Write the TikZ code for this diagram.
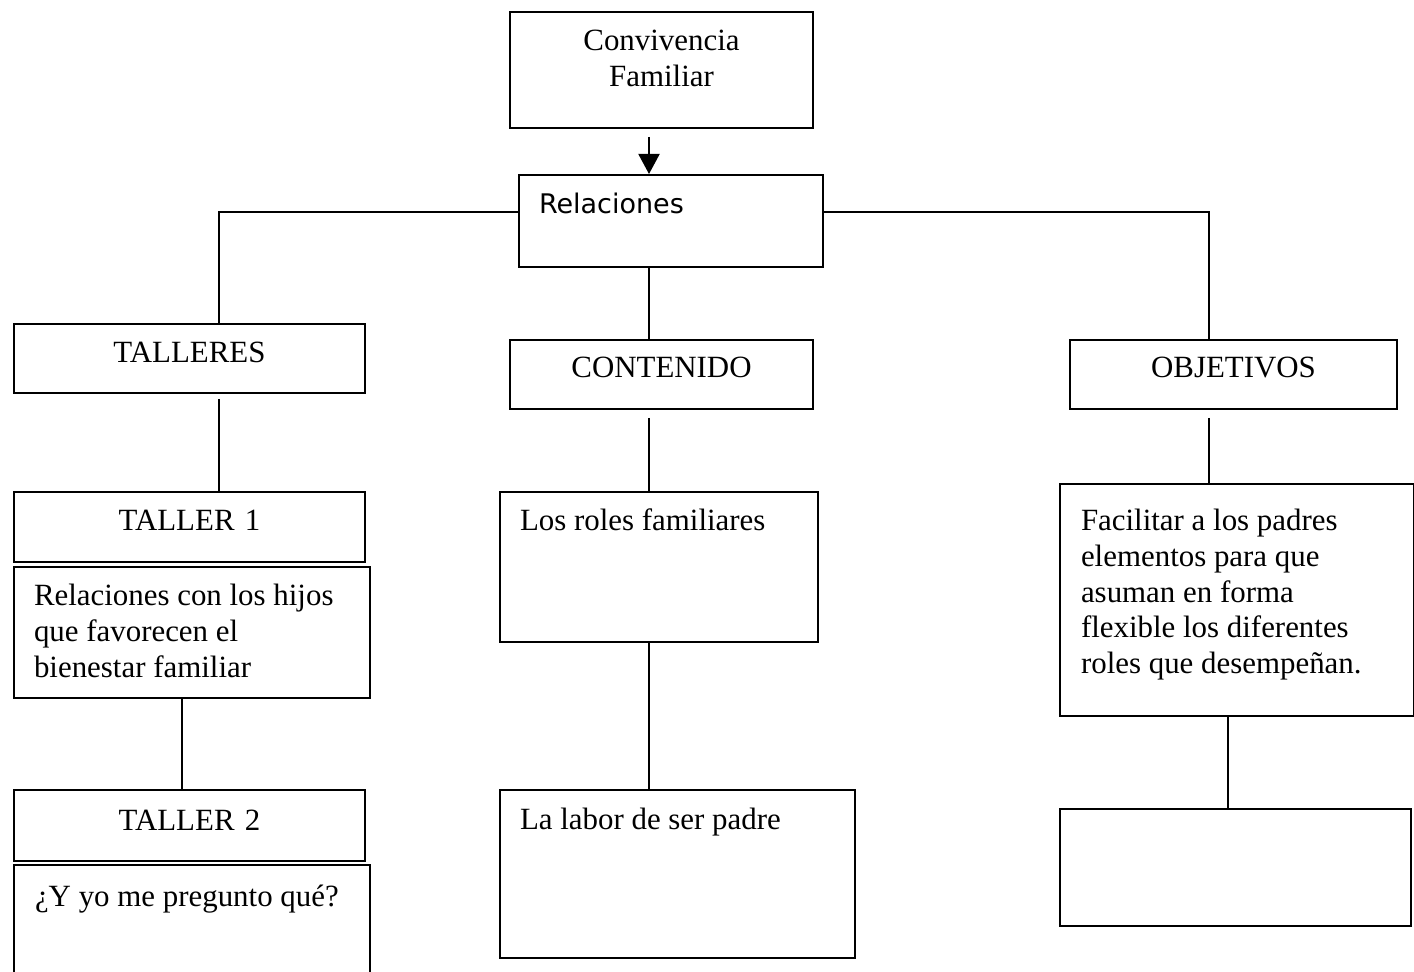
\documentclass[tikz,border=0pt]{standalone}
\usepackage{fontspec}
\setmainfont{Liberation Serif}
\newfontfamily\relfont{DejaVu Sans}
\usetikzlibrary{arrows.meta}

\tikzset{
  box/.style={draw, line width=1pt, anchor=north west, inner sep=0pt,
    font=\fontsize{15.45}{17.8}\selectfont},
  head/.style={box, align=center},
  note/.style={box, align=flush left, inner xsep=10pt},
  link/.style={line width=1pt},
}

\begin{document}
\begin{tikzpicture}[x=0.5pt, y=-0.5pt]
\clip (0,0) rectangle (1414,972);

% column positions of the connectors
\coordinate (xa) at (219,0);
\coordinate (xb) at (182,0);
\coordinate (xm) at (649,0);
\coordinate (xr) at (1209,0);
\coordinate (xs) at (1228,0);

\node[head, text width=151.5pt, text height=19.5pt, text depth=38.5pt] (conv) at (509,11) {Convivencia\\Familiar};
\node[note, text width=132pt, text height=19.5pt, text depth=26.5pt,
  font=\relfont\fontsize{13.5}{16}\selectfont] (rel) at (518,174) {Relaciones};

\node[head, text width=175.5pt, text height=19.5pt, text depth=15pt] (talleres) at (13,323) {TALLERES};
\node[head, text width=151.5pt, text height=19pt, text depth=15.5pt] (contenido) at (509,339) {CONTENIDO};
\node[head, text width=163.5pt, text height=19pt, text depth=15.5pt] (objetivos) at (1069,339) {OBJETIVOS};

% left column
\node[head, text width=175.5pt, text height=19.5pt, text depth=15.5pt] (taller1) at (13,491) {TALLER 1};
\node[note, text width=158pt, text height=19.5pt, text depth=46pt] (hijos) at (13,566)
  {Relaciones con los hijos\\que favorecen el\\bienestar familiar};
\node[head, text width=175.5pt, text height=20pt, text depth=15.5pt] (taller2) at (13,789) {TALLER 2};
\node[note, inner xsep=10.5pt, text width=157pt, text height=20.5pt, text depth=45pt] (pregunto) at (13,864)
  {¿Y yo me pregunto qué?};

% middle column
\node[note, text width=139pt, text height=19.5pt, text depth=55.5pt] (roles) at (499,491) {Los roles familiares};
\node[note, text width=157.5pt, text height=19.5pt, text depth=64.5pt] (labor) at (499,789) {La labor de ser padre};

% right column
\node[note, inner xsep=10.5pt, text width=156pt, text height=23.5pt, text depth=92.5pt] (facilitar) at (1059,483)
  {Facilitar a los padres\\elementos para que\\asuman en forma\\flexible los diferentes\\roles que desempeñan.};
\node[box, minimum width=175.5pt, minimum height=58.5pt] (blank) at (1059,808) {};

\draw[link, -{Triangle[width=10.5pt,length=10pt]}, shorten <=4pt] (conv.south -| xm) -- (rel.north -| xm);
\draw[link] ([yshift=4.5pt]rel.west) -| (xa |- talleres.north);
\draw[link] ([yshift=4.5pt]rel.east) -| (xr |- objetivos.north);
\draw[link] (rel.south -| xm) -- (contenido.north -| xm);

\draw[link, shorten <=2.5pt] (talleres.south -| xa) -- (taller1.north -| xa);
\draw[link] (hijos.south -| xb) -- (taller2.north -| xb);
\draw[link, shorten <=4pt] (contenido.south -| xm) -- (roles.north -| xm);
\draw[link] (roles.south -| xm) -- (labor.north -| xm);
\draw[link, shorten <=4pt] (objetivos.south -| xr) -- (facilitar.north -| xr);
\draw[link] (facilitar.south -| xs) -- (blank.north -| xs);
\end{tikzpicture}
\end{document}
